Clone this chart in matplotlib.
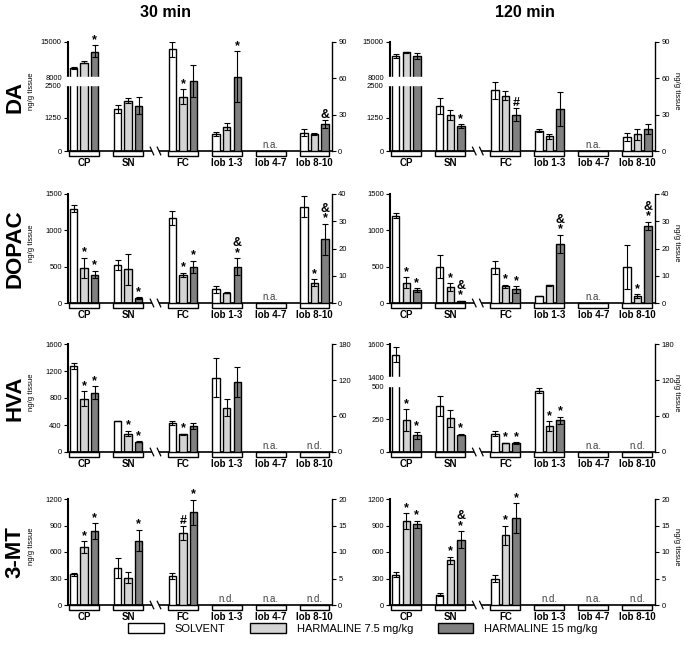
import numpy as np
import matplotlib
matplotlib.use("Agg")
import matplotlib.pyplot as plt
from matplotlib.patches import Rectangle, Patch

plt.rcParams['font.family'] = ['Liberation Sans', 'DejaVu Sans']

regions = ["CP", "SN", "FC", "lob 1-3", "lob 4-7", "lob 8-10"]
groups = ["SOLVENT", "HARMALINE 7.5 mg/kg", "HARMALINE 15 mg/kg"]
colors = ["white", "#d4d4d4", "#808080"]

# means / sem per region (solvent, 7.5, 15); CP & SN on left axis, rest on right axis
DA_30_mean = [[9800, 10900, 13100], [1590, 1900, 1710], [84, 45, 58], [14, 20, 61.5], None, [15, 14, 22.4]]
DA_30_err = [[200, 200, 1200], [160, 95, 320], [6, 6, 13], [2, 3, 21], None, [2.8, 0.8, 3.2]]
DA_30_sig = [["", "", "*"], ["", "", ""], ["", "*", ""], ["", "", "*"], None, ["", "", "&"]]
DA_30_note = ["", "", "", "", "n.a.", ""]

DA_120_mean = [[12200, 12950, 12200], [1700, 1380, 950], [50, 45.7, 30], [16.8, 12, 34.7], None, [11.6, 13.9, 18]]
DA_120_err = [[440, 100, 580], [300, 190, 70], [7, 4, 5.5], [1.2, 2, 14], None, [3.3, 4.6, 4]]
DA_120_sig = [["", "", ""], ["", "", "*"], ["", "", "#"], ["", "", ""], None, ["", "", ""]]
DA_120_note = ["", "", "", "", "n.a.", ""]

DOPAC_30_mean = [[1300, 483, 391], [520, 465, 69], [31.3, 10.4, 13.3], [5.0, 3.7, 13.3], None, [35.3, 7.5, 23.4]]
DOPAC_30_err = [[46, 138, 53], [69, 216, 10], [2.5, 0.7, 2.2], [1.2, 0.2, 3.1], None, [3.9, 1.2, 5.7]]
DOPAC_30_sig = [["", "*", "*"], ["", "", "*"], ["", "*", "*"], ["", "", "&\n*"], None, ["", "*", "&\n*"]]
DOPAC_30_note = ["", "", "", "", "n.a.", ""]

DOPAC_120_mean = [[1200, 276, 175], [500, 221, 23], [13, 6.1, 5.0], [2.5, 6.5, 21.8], None, [13.3, 2.6, 28.3]]
DOPAC_120_err = [[35, 76, 30], [160, 50, 5], [2.5, 0.6, 1.2], [0.1, 0.2, 3.3], None, [8, 0.7, 1.5]]
DOPAC_120_sig = [["", "*", "*"], ["", "*", "&\n*"], ["", "*", "*"], ["", "", "&\n*"], None, ["", "*", "&\n*"]]
DOPAC_120_note = ["", "", "", "", "n.a.", ""]

HVA_30_mean = [[1275, 790, 880], [457, 273, 155], [47.8, 29.4, 43.3], [124, 74, 116], None, None]
HVA_30_err = [[47, 113, 93], [0, 40, 8], [3.6, 1, 4.7], [33, 14, 25], None, None]
HVA_30_sig = [["", "*", "*"], ["", "*", "*"], ["", "*", ""], ["", "", ""], None, None]
HVA_30_note = ["", "", "", "", "n.a.", "n.d."]

HVA_120_mean = [[1534, 241, 127], [348, 254, 132], [30.7, 15, 15], [102, 43, 53], None, None]
HVA_120_err = [[45, 82, 25], [76, 63, 5], [4, 0.5, 1], [4, 8, 6], None, None]
HVA_120_sig = [["", "*", "*"], ["", "", "*"], ["", "*", "*"], ["", "*", "*"], None, None]
HVA_120_note = ["", "", "", "", "n.a.", "n.d."]

MT_30_mean = [[348, 655, 833], [416, 310, 730], [5.55, 13.6, 17.5], None, None, None]
MT_30_err = [[15, 66, 91], [114, 66, 121], [0.57, 1.26, 2.4], None, None, None]
MT_30_sig = [["", "*", "*"], ["", "", "*"], ["", "#", "*"], None, None, None]
MT_30_note = ["", "", "", "n.d.", "n.a.", "n.d."]

MT_120_mean = [[343, 949, 912], [117, 507, 737], [5.0, 13.2, 16.4], None, None, None]
MT_120_err = [[27, 89, 42], [15, 40, 97], [0.6, 1.8, 2.8], None, None, None]
MT_120_sig = [["", "*", "*"], ["", "*", "&\n*"], ["", "*", "*"], None, None, None]
MT_120_note = ["", "", "", "n.d.", "n.a.", "n.d."]

row_names = ["DA", "DOPAC", "HVA", "3-MT"]
left_lims = [15000, 1500, 1600, 1200]
right_lims = [90, 40, 180, 20]
left_ticks_30 = [[0, 1250, 2500, 8000, 15000], [0, 500, 1000, 1500], [0, 400, 800, 1200, 1600], [0, 300, 600, 900, 1200]]
left_ticks_120 = [[0, 1250, 2500, 8000, 15000], [0, 500, 1000, 1500], [0, 250, 500, 1400, 1600], [0, 300, 600, 900, 1200]]
right_ticks = [[0, 30, 60, 90], [0, 10, 20, 30, 40], [0, 60, 120, 180], [0, 5, 10, 15, 20]]
# axis breaks: (low, high, fraction of height below break, fraction for gap)
breaks_30 = [(2500, 8000, 66 / 109, 8 / 109), None, None, None]
breaks_120 = [(2500, 8000, 66 / 109, 8 / 109), None, (500, 1400, 66 / 108, 9 / 108), None]

panels = [
    [(DA_30_mean, DA_30_err, DA_30_sig, DA_30_note), (DA_120_mean, DA_120_err, DA_120_sig, DA_120_note)],
    [(DOPAC_30_mean, DOPAC_30_err, DOPAC_30_sig, DOPAC_30_note), (DOPAC_120_mean, DOPAC_120_err, DOPAC_120_sig, DOPAC_120_note)],
    [(HVA_30_mean, HVA_30_err, HVA_30_sig, HVA_30_note), (HVA_120_mean, HVA_120_err, HVA_120_sig, HVA_120_note)],
    [(MT_30_mean, MT_30_err, MT_30_sig, MT_30_note), (MT_120_mean, MT_120_err, MT_120_sig, MT_120_note)],
]

pos = [0, 1, 2.25, 3.25, 4.25, 5.25]
offs = [-0.24, 0, 0.24]
bw = 0.17
brk_x = (pos[1] + pos[2]) / 2


def break_scale(lo, hi, top, f_lo, f_gap):
    f_up = 1 - f_lo - f_gap

    def fwd(v):
        v = np.asarray(v, float)
        return np.where(v <= lo, v / lo * f_lo,
                        np.where(v <= hi, f_lo + (v - lo) / (hi - lo) * f_gap,
                                 f_lo + f_gap + (v - hi) / (top - hi) * f_up))

    def inv(u):
        u = np.asarray(u, float)
        return np.where(u <= f_lo, u / f_lo * lo,
                        np.where(u <= f_lo + f_gap, lo + (u - f_lo) / f_gap * (hi - lo),
                                 hi + (u - f_lo - f_gap) / f_up * (top - hi)))
    return fwd, inv


def add_sig(a, x, y, s):
    if s == "":
        return
    a.annotate(s, (x, y), xytext=(0, -0.5), textcoords="offset points", ha="center", va="bottom",
               fontsize=9, fontweight="bold", linespacing=0.75, multialignment="center")


fig = plt.figure(figsize=(6.85, 6.45), dpi=100)
W, H = 685, 645
col_x = [68, 390]
col_w = [264, 265]
row_b = [151, 303, 452, 605]
row_h = [109, 109, 108, 106]

for r in range(4):
    for c in range(2):
        means, errs, sigs, notes = panels[r][c]
        ax = fig.add_axes([col_x[c] / W, 1 - row_b[r] / H, col_w[c] / W, row_h[r] / H])
        brk = (breaks_30 if c == 0 else breaks_120)[r]
        if brk is not None:
            fwd, inv = break_scale(brk[0], brk[1], left_lims[r], brk[2], brk[3])
            ax.set_yscale("function", functions=(fwd, inv))
        ax.set_ylim(0, left_lims[r])
        ax.set_xlim(-0.37, 5.65)
        ax2 = ax.twinx()
        ax2.set_ylim(0, right_lims[r])

        for i in range(6):
            if means[i] is None:
                if notes[i]:
                    ax.text(pos[i], 0.012, notes[i], transform=ax.get_xaxis_transform(),
                            ha="center", va="bottom", fontsize=7, color="#444444")
                continue
            a = ax if i < 2 else ax2
            xs = [pos[i] + o for o in offs]
            a.bar(xs, means[i], width=bw, color=colors, edgecolor="black", linewidth=1,
                  yerr=errs[i], capsize=2, error_kw=dict(elinewidth=0.8, capthick=0.8, ecolor="black"))
            for j in range(3):
                add_sig(a, xs[j], means[i][j] + errs[i][j], sigs[i][j])

        # white band for y-axis break
        if brk is not None:
            ax.fill_between([-0.45, brk_x - 0.1], brk[0], brk[1], color="white", zorder=4, clip_on=False)

        # region boxes & labels
        for i in range(6):
            ax.add_patch(Rectangle((pos[i] - 0.34, -0.05), 0.68, 0.05, transform=ax.get_xaxis_transform(),
                                   facecolor="white", edgecolor="black", linewidth=1, clip_on=False))
            ax.text(pos[i], -0.065, regions[i], transform=ax.get_xaxis_transform(), ha="center", va="top",
                    fontsize=7, fontweight="bold")

        # x-axis break marks
        t = ax2.get_xaxis_transform()
        ax2.add_patch(Rectangle((brk_x - 0.08, -0.02), 0.16, 0.04, transform=t, facecolor="white",
                                edgecolor="none", clip_on=False, zorder=5))
        for bx in (brk_x - 0.08, brk_x + 0.08):
            ax2.plot([bx - 0.04, bx + 0.04], [0.035, -0.035], transform=t, color="black", lw=0.9,
                     clip_on=False, zorder=6)

        ax.set_xticks([])
        ax.set_yticks(left_ticks_30[r] if c == 0 else left_ticks_120[r])
        ax.set_yticklabels([str(v) for v in (left_ticks_30[r] if c == 0 else left_ticks_120[r])])
        ax.minorticks_off()
        ax2.set_yticks(right_ticks[r])
        ax2.set_yticklabels([str(v) for v in right_ticks[r]])
        for a in (ax, ax2):
            a.tick_params(axis="y", labelsize=5.5, length=3, width=0.8, pad=1.5)
            a.spines["top"].set_visible(False)
        ax.spines["right"].set_visible(False)
        ax2.spines["left"].set_visible(False)
        ax2.spines["bottom"].set_visible(False)
        ax.spines["left"].set_linewidth(1.5)
        ax.spines["bottom"].set_linewidth(1.2)
        ax2.spines["right"].set_linewidth(1.0)

        if c == 0:
            ax.set_ylabel("ng/g tissue", fontsize=5.5)
            ax.yaxis.set_label_coords(-0.125, 0.55)
        else:
            ax2.set_ylabel("ng/g tissue", fontsize=5.5, rotation=270, va="center")
            ax2.yaxis.set_label_coords(1.083, 0.55)

    fig.text(0.022, 1 - (row_b[r] - row_h[r] / 2) / H, row_names[r], rotation=90, ha="center", va="center",
             fontsize=16, fontweight="bold")

fig.text(0.241, 0.981, "30 min", ha="center", va="center", fontsize=11.5, fontweight="bold")
fig.text(0.766, 0.981, "120 min", ha="center", va="center", fontsize=11.5, fontweight="bold")

handles = [Patch(facecolor=col, edgecolor="black", linewidth=1) for col in colors]
fig.legend(handles, groups, loc="center", bbox_to_anchor=(0.53, 0.026), ncol=3, frameon=False,
           fontsize=8, handlelength=3.2, handleheight=1.0, columnspacing=2.2, handletextpad=1.0)

fig.savefig("out.png", dpi=100)
